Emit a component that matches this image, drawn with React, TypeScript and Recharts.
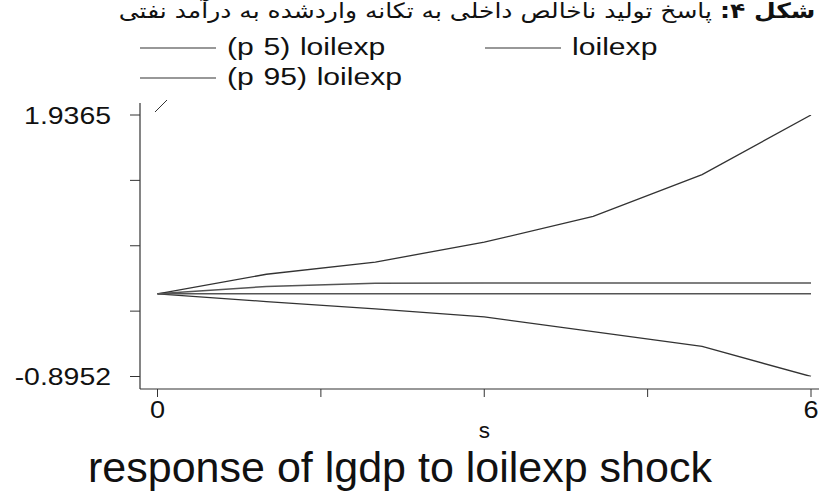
import React from 'react';
import { LineChart, Line, XAxis, YAxis, Legend, Label } from 'recharts';

const steps = [0, 1, 2, 3, 4, 5, 6];
const lowerP5 = [0, -0.084, -0.163, -0.25, -0.409, -0.57, -0.8952];
const irfValues = [0, 0.08, 0.115, 0.117, 0.117, 0.117, 0.117];
const upperP95 = [0, 0.212, 0.344, 0.559, 0.839, 1.291, 1.9365];
const zeroLine = [0, 0, 0, 0, 0, 0, 0];

const yTicks = [-0.8952, -0.1873, 0.5206, 1.2286, 1.9365];
const yTickLabels = ['-0.8952', '', '', '', '1.9365'];
const xTicks = [0, 1.5, 3, 4.5, 6];
const xTickLabels = ['0', '', '', '', '6'];

const seriesNames = ['(p 5) loilexp', 'loilexp', '(p 95) loilexp'];
const titleBold = 'شکل ۴:';
const titleRest = 'پاسخ تولید ناخالص داخلی به تکانه واردشده به درآمد نفتی';
const xAxisTitle = 's';
const bottomTitle = 'response of lgdp to loilexp shock';

const data = steps.map((s, i) => ({
  s,
  p5: lowerP5[i],
  irf: irfValues[i],
  p95: upperP95[i],
  zero: zeroLine[i],
}));

const FONT = '"Liberation Sans", Arial, sans-serif';

const YTick = (props: any) => {
  const { x, y, payload } = props;
  const idx = yTicks.indexOf(payload.value);
  const label = idx >= 0 ? yTickLabels[idx] : '';
  if (!label) return null;
  return (
    <g transform={`translate(${x},${y}) scale(1.16,1)`}>
      <text x={0} y={0} dy={8.5} textAnchor="end" fontSize={24.5} fill="#111" fontFamily={FONT}>
        {label}
      </text>
    </g>
  );
};

const XTick = (props: any) => {
  const { x, y, payload } = props;
  const idx = xTicks.indexOf(payload.value);
  const label = idx >= 0 ? xTickLabels[idx] : '';
  if (!label) return null;
  return (
    <g transform={`translate(${x},${y}) scale(1.13,1)`}>
      <text x={0} y={0} dy={21} textAnchor="middle" fontSize={24} fill="#111" fontFamily={FONT}>
        {label}
      </text>
    </g>
  );
};

const LegendContent = (props: any) => {
  const payload = (props.payload || []).filter((p: any) => p.type !== 'none');
  const ordered = seriesNames
    .map((n) => payload.find((p: any) => p.value === n))
    .filter(Boolean);
  return (
    <svg width={819} height={60} style={{ display: 'block', overflow: 'visible' }}>
      {ordered.map((p: any, i: number) => {
        const col = i % 2;
        const row = Math.floor(i / 2);
        const x0 = col === 0 ? 140 : 485;
        const y0 = 12 + row * 30;
        return (
          <g key={p.value}>
            <line x1={x0} x2={x0 + 76} y1={y0} y2={y0} stroke="#333" strokeWidth={1.2} />
            <g transform={`translate(${x0 + 87},${y0 + 7}) scale(1.31,1)`}>
              <text x={0} y={0} fontSize={23} wordSpacing={1} fill="#111" fontFamily={FONT}>
                {p.value}
              </text>
            </g>
          </g>
        );
      })}
    </svg>
  );
};

const SLabel = (props: any) => {
  const vb = props.viewBox || {};
  const cx = vb.x + 17.5 + (vb.width - 25.5) / 2;
  return (
    <text x={cx} y={vb.y + 49} textAnchor="middle" fontSize={22.5} fill="#111" fontFamily={FONT}>
      {xAxisTitle}
    </text>
  );
};

export default function App() {
  return (
    <div style={{ position: 'absolute', left: 0, top: 0, width: 819, height: 492, background: '#fff', fontFamily: FONT }}>
      <div
        dir="rtl"
        style={{
          position: 'absolute',
          top: 0,
          right: 4,
          fontSize: 21,
          lineHeight: '22px',
          fontFamily: '"DejaVu Sans", sans-serif',
          color: '#111',
          whiteSpace: 'nowrap',
          transform: 'scaleX(1.19)',
          transformOrigin: 'right top',
        }}
      >
        <b>{titleBold}</b> {titleRest}
      </div>
      <LineChart width={819} height={492} data={data} margin={{ top: 103, right: 0, bottom: 63, left: 0 }}>
        <XAxis
          dataKey="s"
          type="number"
          domain={[0, 6]}
          ticks={xTicks}
          interval={0}
          padding={{ left: 17.5, right: 8 }}
          height={40}
          tickSize={8}
          tickMargin={0}
          tick={<XTick />}
          axisLine={{ stroke: '#333', strokeWidth: 1.2 }}
          tickLine={{ stroke: '#333', strokeWidth: 1 }}
        >
          <Label content={<SLabel />} />
        </XAxis>
        <YAxis
          type="number"
          domain={[-0.8952, 1.9365]}
          ticks={yTicks}
          interval={0}
          width={140}
          padding={{ top: 12, bottom: 12.5 }}
          tickSize={10}
          tickMargin={19}
          tick={<YTick />}
          allowDataOverflow
          axisLine={{ stroke: '#333', strokeWidth: 1.2 }}
          tickLine={{ stroke: '#333', strokeWidth: 1 }}
        />
        <Legend
          layout="horizontal"
          verticalAlign="middle"
          align="center"
          wrapperStyle={{ top: 36, left: 0, width: 819, height: 60 }}
          content={<LegendContent />}
        />
        <Line dataKey="p5" name={seriesNames[0]} type="linear" stroke="#333" strokeWidth={1.3} dot={false} isAnimationActive={false} />
        <Line dataKey="irf" name={seriesNames[1]} type="linear" stroke="#555" strokeWidth={1.5} dot={false} isAnimationActive={false} />
        <Line dataKey="p95" name={seriesNames[2]} type="linear" stroke="#333" strokeWidth={1.3} dot={false} isAnimationActive={false} />
        <Line dataKey="zero" name="zero" legendType="none" type="linear" stroke="#555" strokeWidth={1.5} dot={false} isAnimationActive={false} />
      </LineChart>
      <svg width={819} height={492} style={{ position: 'absolute', left: 0, top: 0, pointerEvents: 'none' }}>
        <line x1={155} y1={112} x2={167} y2={100} stroke="#333" strokeWidth={1} />
        <text x={400} y={482} textAnchor="middle" fontSize={43} fill="#111" fontFamily={FONT}>
          {bottomTitle}
        </text>
      </svg>
    </div>
  );
}
